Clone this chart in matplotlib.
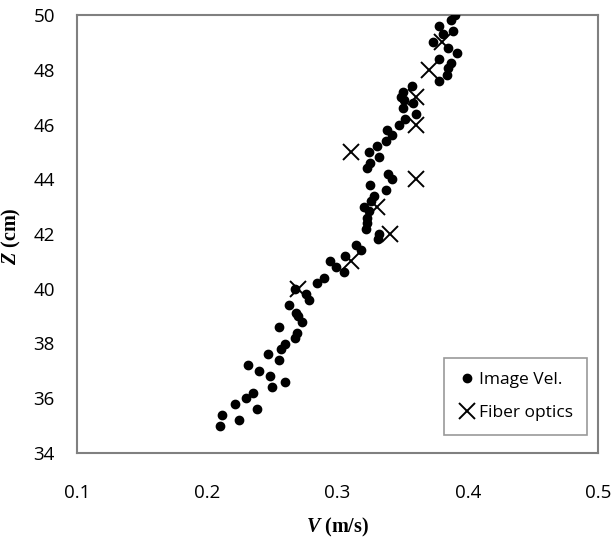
import matplotlib
matplotlib.use("Agg")
import matplotlib.pyplot as plt

# image velocimetry points (V in m/s, Z in cm)
img_v = [0.210, 0.211, 0.224, 0.221, 0.230, 0.235, 0.238, 0.231, 0.240, 0.248,
         0.250, 0.260, 0.247, 0.255, 0.257, 0.260, 0.255, 0.267, 0.269, 0.263,
         0.268, 0.270, 0.273, 0.267, 0.276, 0.278, 0.284, 0.290, 0.294, 0.299,
         0.305, 0.306, 0.314, 0.318, 0.331, 0.332, 0.322, 0.323, 0.323, 0.320,
         0.324, 0.326, 0.328, 0.325, 0.337, 0.339, 0.342, 0.323, 0.325, 0.332,
         0.324, 0.330, 0.337, 0.342, 0.338, 0.347, 0.352, 0.360, 0.350, 0.351,
         0.358, 0.350, 0.357, 0.349, 0.378, 0.384, 0.385, 0.387, 0.378, 0.392,
         0.385, 0.373, 0.381, 0.389, 0.378, 0.387, 0.390]
img_z = [35.0, 35.4, 35.2, 35.8, 36.0, 36.2, 35.6, 37.2, 37.0, 36.8,
         36.4, 36.6, 37.6, 37.4, 37.8, 38.0, 38.6, 38.2, 38.4, 39.4,
         39.1, 39.0, 38.8, 40.0, 39.8, 39.6, 40.2, 40.4, 41.0, 40.8,
         40.6, 41.2, 41.6, 41.4, 41.8, 42.0, 42.2, 42.4, 42.6, 43.0,
         42.85, 43.2, 43.4, 43.8, 43.6, 44.2, 44.0, 44.4, 44.6, 44.8,
         45.0, 45.2, 45.4, 45.6, 45.8, 46.0, 46.2, 46.4, 46.6, 46.9,
         46.8, 47.2, 47.4, 47.0, 47.6, 47.8, 48.05, 48.25, 48.4, 48.6,
         48.8, 49.0, 49.3, 49.4, 49.6, 49.8, 50.0]

# fiber optic probe points
fib_v = [0.27, 0.31, 0.34, 0.33, 0.36, 0.31, 0.36, 0.36, 0.37, 0.38]
fib_z = [40, 41, 42, 43, 44, 45, 46, 47, 48, 49]

plt.rcParams['mathtext.fontset'] = 'custom'
plt.rcParams['mathtext.it'] = 'Liberation Serif:italic:bold'
plt.rcParams['mathtext.rm'] = 'Liberation Serif:bold'

fig = plt.figure(figsize=(6.12, 5.39), dpi=100)
ax = fig.add_axes([77 / 612, 1 - 453 / 539, 521 / 612, 438 / 539])

ax.plot(img_v, img_z, 'o', color='black', markersize=6, label='Image Vel.', zorder=3)
ax.plot(fib_v, fib_z, 'x', color='black', markersize=12, markeredgewidth=1.4,
        label='Fiber optics', zorder=4)

ax.set_xlim(0.1, 0.5)
ax.set_ylim(34, 50)
ax.set_xticks([0.1, 0.2, 0.3, 0.4, 0.5])
ax.set_yticks(range(34, 51, 2))
ax.tick_params(length=0, labelsize=13.5)
ax.tick_params(axis='x', pad=22)
ax.tick_params(axis='y', pad=16)
for lab in ax.get_xticklabels() + ax.get_yticklabels():
    lab.set_family('Open Sans')
for s in ax.spines.values():
    s.set_color('#808080')
    s.set_linewidth(1.5)

ax.set_xlabel(r'$V$ (m/s)', family='Liberation Serif', weight='bold', fontsize=14.5)
ax.set_ylabel(r'$Z$ (cm)', family='Liberation Serif', weight='bold', fontsize=14.5)
ax.xaxis.set_label_coords(0.5, -0.143)
ax.yaxis.set_label_coords(-0.104, 0.495)

leg = ax.legend(loc='lower right', bbox_to_anchor=(0.979, 0.041), frameon=True,
                fancybox=False, prop={'family': 'Open Sans', 'size': 12.5},
                handletextpad=0.2, handlelength=1.0, labelspacing=1.0,
                borderpad=0.8, borderaxespad=0)
leg.get_frame().set_edgecolor('#808080')
leg.get_frame().set_linewidth(1.2)

fig.savefig('out.png', dpi=100)
